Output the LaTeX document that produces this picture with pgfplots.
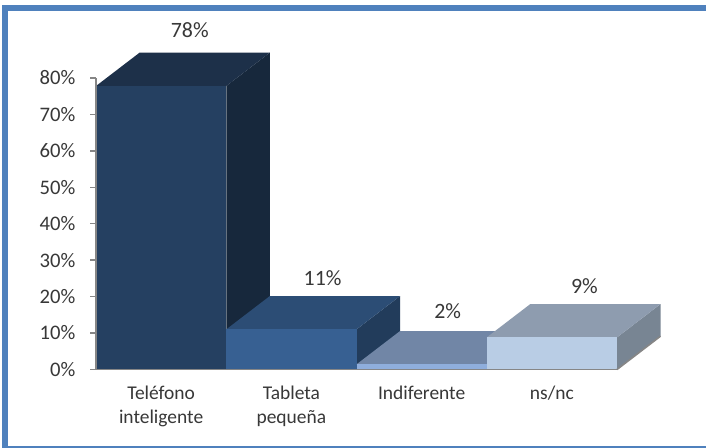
\documentclass[border=0pt]{standalone}
\usepackage{fontspec}
\setmainfont{Carlito}
\usepackage{pgfplots}
\pgfplotsset{compat=1.18}
\definecolor{frameblue}{HTML}{4F81BD}
\definecolor{txt}{HTML}{383838}
\definecolor{axisgray}{HTML}{868686}
% front, top, side of each bar
\definecolor{fa}{HTML}{254061}\definecolor{ta}{HTML}{1D3049}\definecolor{sa}{HTML}{17283C}
\definecolor{fb}{HTML}{376092}\definecolor{tb}{HTML}{2C4D75}\definecolor{sb}{HTML}{223C5B}
\definecolor{fc}{HTML}{8FAEDC}\definecolor{tc}{HTML}{7186A6}\definecolor{sc}{HTML}{5F7290}
\definecolor{fd}{HTML}{B9CDE5}\definecolor{td}{HTML}{8E9CAF}\definecolor{sd}{HTML}{788593}
\newcommand{\txtfont}[1]{\fontsize{#1}{18}\selectfont}
\begin{document}
\begin{tikzpicture}[x=0.75pt,y=0.75pt]
 \useasboundingbox (0,0) rectangle (706,448);
 \fill[white] (0,0) rectangle (706,448);
 % frame
 \fill[frameblue] (2.3,0) rectangle (8.3,443);
 \fill[frameblue] (2.3,437) rectangle (706,443);
 \fill[frameblue] (2.3,0) rectangle (706,2);
 \begin{axis}[
   at={(72pt,58.9pt)},
   anchor=south west,
   scale only axis,
   width=390.75pt,
   height=218.6pt,
   clip=false,
   xmin=0,xmax=4,
   ymin=0,ymax=80,
   axis lines*=left,
   axis on top,
   axis line style={axisgray,line width=1.2pt},
   xtick={0.5,1.5,2.5,3.5},
   xticklabels={Teléfono\\inteligente,Tableta\\pequeña,Indiferente,ns/nc},
   xtick style={draw=none},
   xticklabel style={align=center,anchor=north,yshift=-4.3pt,text=txt,font=\txtfont{14.6}},
   ytick={0,10,...,80},
   ytick style={axisgray,line width=1pt},
   tick align=outside,
   major tick length=4.5pt,
   yticklabel={\pgfmathprintnumber{\tick}\%},
   /pgf/number format/assume math mode=true,
   yticklabel style={text=txt,font=\txtfont{15.5},xshift=-7.5pt},
   every axis plot/.append style={forget plot},
   ]
   % Teléfono inteligente
   \addplot[draw=none,fill=sa] coordinates {(1,0) (1.334,9.14) (1.334,86.94) (1,77.8)} -- cycle;
   \addplot[draw=none,fill=ta] coordinates {(0,77.8) (0.334,86.94) (1.334,86.94) (1,77.8)} -- cycle;
   \addplot[draw=none,fill=fa] coordinates {(0,0) (0,77.8) (1,77.8) (1,0)} -- cycle;
   % Tableta pequeña
   \addplot[draw=none,fill=sb] coordinates {(2,0) (2.334,9.14) (2.334,20.14) (2,11)} -- cycle;
   \addplot[draw=none,fill=tb] coordinates {(1,11) (1.334,20.14) (2.334,20.14) (2,11)} -- cycle;
   \addplot[draw=none,fill=fb] coordinates {(1,0) (1,11) (2,11) (2,0)} -- cycle;
   % Indiferente
   \addplot[draw=none,fill=sc] coordinates {(3,0) (3.334,9.14) (3.334,10.54) (3,1.4)} -- cycle;
   \addplot[draw=none,fill=tc] coordinates {(2,1.4) (2.334,10.54) (3.334,10.54) (3,1.4)} -- cycle;
   \addplot[draw=none,fill=fc] coordinates {(2,0) (2,1.4) (3,1.4) (3,0)} -- cycle;
   % ns/nc
   \addplot[draw=none,fill=sd] coordinates {(4,0) (4.334,9.14) (4.334,17.94) (4,8.8)} -- cycle;
   \addplot[draw=none,fill=td] coordinates {(3,8.8) (3.334,17.94) (4.334,17.94) (4,8.8)} -- cycle;
   \addplot[draw=none,fill=fd] coordinates {(3,0) (3,8.8) (4,8.8) (4,0)} -- cycle;
   % floor edge
   \addplot[axisgray,line width=1.2pt] coordinates {(4,0) (4.334,9.14)};
   % value labels
   \node[text=txt,font=\txtfont{16.4}] at (axis cs:0.72,93.1) {78\%};
   \node[text=txt,font=\txtfont{16.4}] at (axis cs:1.74,25) {11\%};
   \node[text=txt,font=\txtfont{16.4}] at (axis cs:2.70,16) {2\%};
   \node[text=txt,font=\txtfont{16.4}] at (axis cs:3.75,22.9) {9\%};
 \end{axis}
\end{tikzpicture}
\end{document}
